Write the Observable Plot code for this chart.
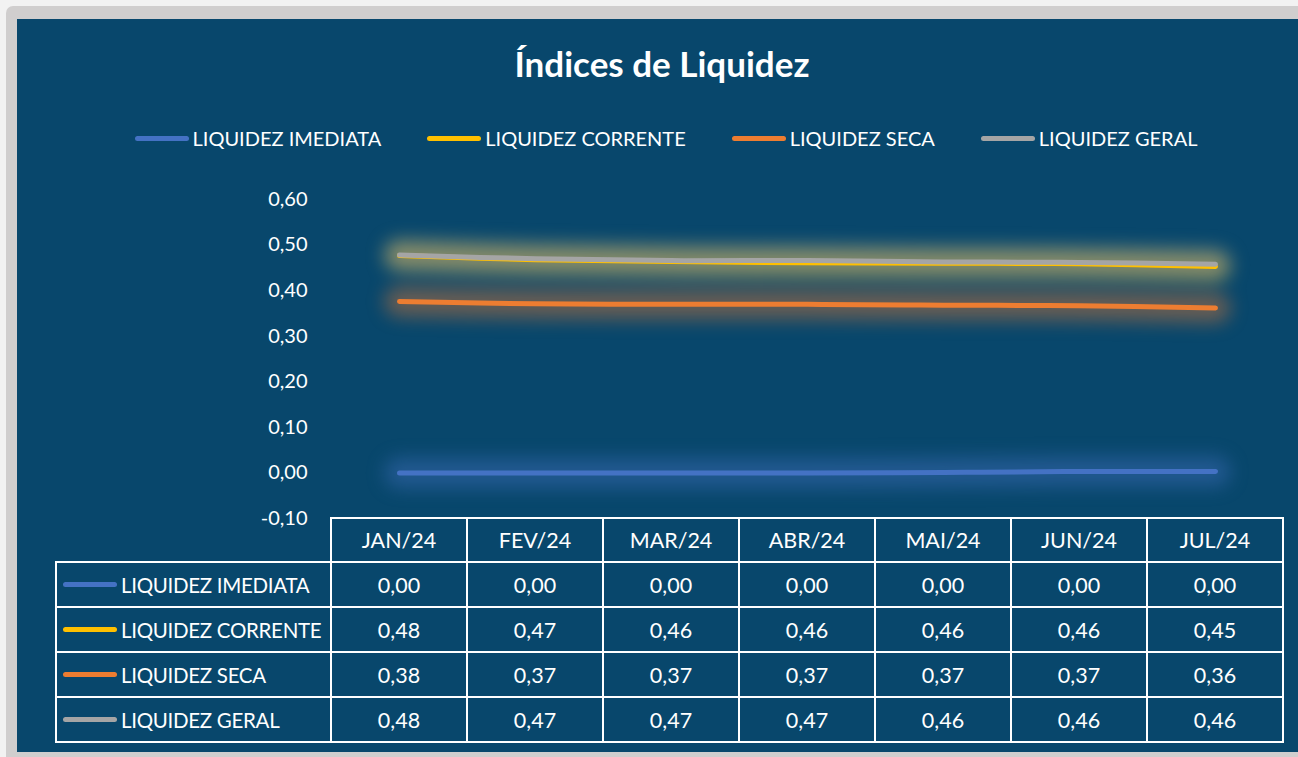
<!DOCTYPE html>
<html><head><meta charset="utf-8">
<script src="https://cdn.jsdelivr.net/npm/d3@7"></script>
<script src="https://cdn.jsdelivr.net/npm/@observablehq/plot@0.6"></script>
<style>
html,body{margin:0;padding:0}
body{width:1298px;height:757px;overflow:hidden;background:#f2f2f2;font-family:Lato,"Open Sans",sans-serif;position:relative}
#frame{position:absolute;left:6px;top:6px;width:1320px;height:770px;background:#d0cece;border-radius:7px}
#panel{position:absolute;left:17px;top:19px;width:1320px;height:733px;background:#08476c}
#title{position:absolute;left:0;top:42px;width:1324px;text-align:center;color:#fff;font-weight:700;font-size:35px;line-height:42px}
#legend{position:absolute;left:0;top:126px;width:1332px;height:24px;display:flex;justify-content:center;gap:46px;color:#fff;font-size:20px;line-height:24px}
.item{display:flex;align-items:center;white-space:nowrap}
.sw{display:inline-block;width:54px;height:5px;border-radius:3px;margin-right:4px}
#chart{position:absolute;left:0;top:180px}
.cell{position:absolute;box-sizing:border-box;border:2px solid #fff;color:#fff;font-size:21.5px;display:flex;align-items:center;justify-content:center;white-space:nowrap}
.lab{justify-content:flex-start;padding-left:6px;font-size:20.5px;letter-spacing:-0.3px}
</style></head>
<body>
<div id="frame"></div>
<div id="panel"></div>
<div id="title">Índices de Liquidez</div>
<div id="legend"></div>
<div id="chart"></div>
<div id="table"></div>
<script>
const months = ["JAN/24","FEV/24","MAR/24","ABR/24","MAI/24","JUN/24","JUL/24"];
const seriesNames = ["LIQUIDEZ IMEDIATA","LIQUIDEZ CORRENTE","LIQUIDEZ SECA","LIQUIDEZ GERAL"];
const seriesColors = ["#4472c4","#ffc000","#ed7d31","#a5a5a5"];
const imediata = [0.000,0.000,0.000,0.000,0.001,0.003,0.003];
const corrente = [0.477,0.468,0.464,0.461,0.460,0.459,0.453];
const seca     = [0.376,0.371,0.370,0.370,0.368,0.367,0.362];
const geral    = [0.478,0.470,0.466,0.466,0.463,0.462,0.458];
const yTicks = [-0.1,0,0.1,0.2,0.3,0.4,0.5,0.6];

const seriesValues = [imediata, corrente, seca, geral];
const data = [];
seriesNames.forEach((s,i)=>months.forEach((m,j)=>data.push({series:s, month:m, value:seriesValues[i][j]})));
const fmt = v => (Math.round(v*100)/100).toFixed(2).replace(".", ",");

// legend
const legend = document.getElementById("legend");
seriesNames.forEach((s,i)=>{
  const it = document.createElement("div"); it.className="item";
  it.innerHTML = `<span class="sw" style="background:${seriesColors[i]}"></span><span>${s}</span>`;
  legend.appendChild(it);
});

const plot = Plot.plot({
  width: 1298,
  height: 358,
  marginTop: 19,
  marginBottom: 20,
  marginLeft: 330,
  marginRight: 14,
  style: {background: "transparent", color: "#fff", fontFamily: "Lato, sans-serif", overflow: "visible"},
  x: {type: "point", domain: months, padding: 0.5, axis: null},
  y: {domain: [-0.1, 0.6], label: null},
  color: {domain: seriesNames, range: seriesColors},
  marks: [
    Plot.axisY({ticks: yTicks, tickSize: 0, tickPadding: 23, fontSize: 20, label: null, tickFormat: d => d.toFixed(2).replace(".", ",")}),
    Plot.line(data, {x: "month", y: "value", z: "series", stroke: "series", curve: "catmull-rom", strokeWidth: 30, strokeOpacity: 0.42, strokeLinecap: "round", className: "glow"}),
    Plot.line(data, {x: "month", y: "value", z: "series", stroke: "series", curve: "catmull-rom", strokeWidth: 5, strokeLinecap: "round"})
  ]
});
document.getElementById("chart").appendChild(plot);
plot.querySelectorAll(".glow").forEach(g => g.style.filter = "blur(9px)");

// table
const xs = plot.scale("x");
const step = (1298 - 14 - 330) / months.length;
const table = document.getElementById("table");
const addCell = (x, y, w, h, html, cls) => {
  const d = document.createElement("div");
  d.className = "cell" + (cls ? " " + cls : "");
  Object.assign(d.style, {left: x + "px", top: y + "px", width: w + "px", height: h + "px"});
  d.innerHTML = html;
  table.appendChild(d);
};
const headTop = 517, headH = 46, rowH = 45, labLeft = 55, labRight = 331;
months.forEach((m, j) => {
  const cx = xs.apply(m);
  addCell(Math.round(cx - step/2) - 1, headTop, Math.round(step) + 2, headH, m);
});
seriesNames.forEach((s, i) => {
  const top = headTop + headH - 2 + i * rowH;
  addCell(labLeft, top, labRight - labLeft + 1, rowH + 2,
    `<span class="sw" style="background:${seriesColors[i]}"></span><span>${s}</span>`, "lab");
  months.forEach((m, j) => {
    const cx = xs.apply(m);
    addCell(Math.round(cx - step/2) - 1, top, Math.round(step) + 2, rowH + 2, fmt(seriesValues[i][j]));
  });
});
</script>
</body></html>
